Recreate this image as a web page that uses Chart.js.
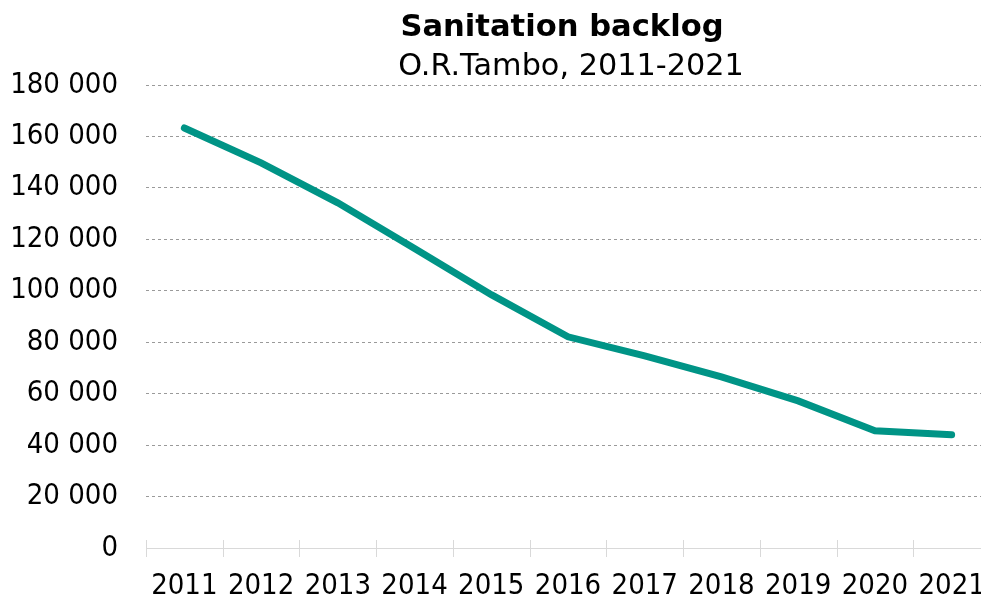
<!DOCTYPE html>
<html>
<head>
<meta charset="utf-8">
<title>Sanitation backlog</title>
<script src="https://cdn.jsdelivr.net/npm/chart.js@4"></script>
<style>
  html, body { margin: 0; padding: 0; background: #ffffff; overflow: hidden; }
  #backlogChart { display: block; }
</style>
</head>
<body>
<canvas id="backlogChart" width="990" height="597"></canvas>
<script>
// Sanitation backlog, O.R.Tambo 2011-2021 (household counts)
const years = ['2011', '2012', '2013', '2014', '2015', '2016', '2017', '2018', '2019', '2020', '2021'];
const backlog = [163300, 149700, 134200, 116400, 98500, 82100, 74700, 66500, 57200, 45600, 44000];
const yTicks = [0, 20000, 40000, 60000, 80000, 100000, 120000, 140000, 160000, 180000];

const titleText = 'Sanitation backlog';
const subtitleText = 'O.R.Tambo, 2011-2021';

const FONT = '"DejaVu Sans Condensed", "DejaVu Sans", sans-serif';
const TITLE_FONT = '"DejaVu Sans", sans-serif';
const TEAL = '#009486';
const AXIS_GREY = '#d9d9d9';

function fmtSpace(v) {
    return String(v).replace(/\B(?=(\d{3})+(?!\d))/g, ' ');
}

// titre centré sur la zone du graphique
const centeredTitle = {
    id: 'centeredTitle',
    afterDraw(chart) {
        const ctx = chart.ctx;
        const cx = (chart.chartArea.left + chart.chartArea.right) / 2;
        ctx.save();
        ctx.fillStyle = '#000000';
        ctx.textAlign = 'center';
        ctx.textBaseline = 'alphabetic';
        ctx.font = 'bold 30.6px ' + TITLE_FONT;
        ctx.fillText(titleText, cx - 6, 36);
        ctx.font = '30.3px ' + TITLE_FONT;
        ctx.fillText(subtitleText, cx + 3, 75);
        ctx.restore();
    }
};

// petites graduations de part et d'autre de l'axe X
const axisTicks = {
    id: 'axisTicks',
    afterDraw(chart) {
        const ctx = chart.ctx;
        const xs = chart.scales.x;
        const y0 = chart.scales.y.getPixelForValue(0);
        ctx.save();
        ctx.strokeStyle = AXIS_GREY;
        ctx.lineWidth = 1;
        ctx.beginPath();
        for (let i = 0; i <= years.length; i++) {
            const x = Math.round(xs.getPixelForValue(i - 0.5)) + 0.5;
            ctx.moveTo(x, y0 - 8);
            ctx.lineTo(x, y0 + 9);
        }
        ctx.moveTo(xs.left, Math.round(y0) + 0.5);
        ctx.lineTo(xs.right, Math.round(y0) + 0.5);
        ctx.stroke();
        ctx.restore();
    }
};

new Chart(document.getElementById('backlogChart'), {
    type: 'line',
    data: {
        labels: years,
        datasets: [{
            label: 'Sanitation backlog',
            data: backlog,
            borderColor: TEAL,
            backgroundColor: TEAL,
            borderWidth: 7,
            borderCapStyle: 'round',
            borderJoinStyle: 'miter',
            tension: 0,
            fill: false,
            pointRadius: 0,
            pointHoverRadius: 0
        }]
    },
    options: {
        responsive: false,
        animation: false,
        layout: { padding: { top: 85, right: 0, bottom: 0, left: 0 } },
        plugins: {
            legend: { display: false },
            title: { display: false },
            tooltip: { enabled: false }
        },
        scales: {
            x: {
                offset: true,
                grid: { display: false },
                border: { display: false },
                ticks: {
                    color: '#000000',
                    font: { family: FONT, size: 29 },
                    padding: 13,
                    maxRotation: 0,
                    autoSkip: false
                },
                afterFit(scale) {
                    scale.height = 49;
                    scale.paddingRight = 0;
                    scale.paddingLeft = 0;
                }
            },
            y: {
                min: 0,
                max: 180000,
                afterBuildTicks(scale) {
                    scale.ticks = yTicks.map(v => ({ value: v }));
                },
                grid: {
                    drawTicks: false,
                    color: ctx => (ctx.tick && ctx.tick.value === 0) ? 'rgba(0,0,0,0)' : '#9a9a9a',
                    lineWidth: 1
                },
                border: { display: false, dash: [3, 3] },
                ticks: {
                    color: '#000000',
                    font: { family: FONT, size: 29 },
                    padding: 28,
                    callback: v => fmtSpace(v)
                },
                afterFit(scale) { scale.width = 146; }
            }
        }
    },
    plugins: [axisTicks, centeredTitle]
});
</script>
</body>
</html>
